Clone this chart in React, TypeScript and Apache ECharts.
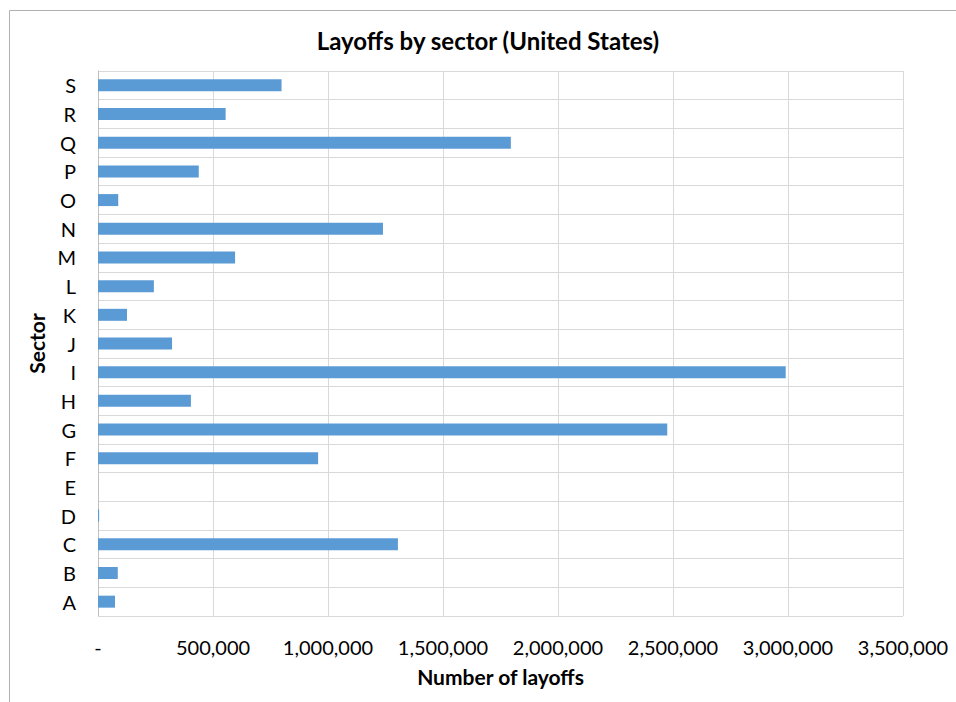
import React, { useEffect, useRef } from "react";
import * as echarts from "echarts";

const sectors = ["A", "B", "C", "D", "E", "F", "G", "H", "I", "J", "K", "L", "M", "N", "O", "P", "Q", "R", "S"];
const layoffs = [74000, 86000, 1304000, 5000, 0, 957000, 2475000, 404000, 2990000, 322000, 126000, 243000, 596000, 1239000, 88000, 438000, 1795000, 555000, 798000];
const xTicksMax = 3500000;
const xTickStep = 500000;

export default function App() {
  const ref = useRef<HTMLDivElement>(null);
  useEffect(() => {
    const chart = echarts.init(ref.current!, null, { renderer: "svg" });
    const font = "Lato, 'Open Sans', sans-serif";
    chart.setOption({
      animation: false,
      backgroundColor: "#fff",
      textStyle: { fontFamily: font },
      graphic: [
        {
          type: "rect",
          shape: { x: 9.5, y: 10.5, width: 1000, height: 800 },
          style: { fill: "none", stroke: "#b0b0b0", lineWidth: 1 },
          silent: true,
        },
        {
          type: "text",
          x: 488,
          y: 40,
          style: {
            text: "Layoffs by sector (United States)",
            fontFamily: font,
            fontSize: 24,
            fontWeight: "bold",
            fill: "#000",
            align: "center",
            verticalAlign: "middle",
          },
        },
      ],
      grid: { left: 98, right: 53, top: 71, bottom: 86, containLabel: false },
      xAxis: {
        type: "value",
        min: 0,
        max: xTicksMax,
        interval: xTickStep,
        name: "Number of layoffs",
        nameLocation: "middle",
        nameGap: 50,
        nameTextStyle: { fontFamily: font, fontSize: 21, fontWeight: "bold", color: "#000" },
        axisLine: { show: false },
        axisTick: { show: false },
        axisLabel: {
          fontFamily: font,
          fontSize: 20,
          color: "#000",
          margin: 21,
          formatter: (v: number) => (v === 0 ? "-" : v.toLocaleString("en-US")),
        },
        splitLine: { show: true, lineStyle: { color: "#d9d9d9", width: 1 } },
      },
      yAxis: {
        type: "category",
        data: sectors,
        boundaryGap: true,
        name: "Sector",
        nameLocation: "middle",
        nameGap: 48,
        nameRotate: 90,
        nameTextStyle: { fontFamily: font, fontSize: 21, fontWeight: "bold", color: "#000" },
        axisLine: { show: true, lineStyle: { color: "#bfbfbf" } },
        axisTick: { show: false },
        axisLabel: { fontFamily: font, fontSize: 20, color: "#000", margin: 22 },
        splitLine: { show: true, interval: 0, lineStyle: { color: "#d9d9d9", width: 1 } },
      },
      series: [
        {
          type: "bar",
          data: layoffs,
          barWidth: 12,
          itemStyle: { color: "#5b9bd5" },
        },
      ],
    });
    return () => chart.dispose();
  }, []);
  return <div ref={ref} style={{ position: "fixed", left: 0, top: 0, width: 956, height: 702 }} />;
}
